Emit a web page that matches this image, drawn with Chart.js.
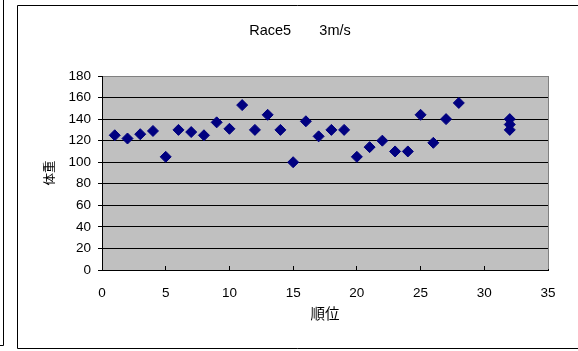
<!DOCTYPE html>
<html>
<head>
<meta charset="utf-8">
<script src="https://cdn.jsdelivr.net/npm/chart.js@4/dist/chart.umd.min.js"></script>
<style>
  html, body { margin: 0; padding: 0; background: #fff; }
  #wrap { width: 578px; height: 351px; }
</style>
</head>
<body>
<div id="wrap"><canvas id="c" width="578" height="351"></canvas></div>
<script>
// Finishing order (順位) and body weight (体重) of each runner
const rank   = [1, 2, 3, 4, 5, 6, 7, 8, 9, 10, 11, 12, 13, 14, 15, 16, 17, 18, 19, 20, 21, 22, 23, 24, 25, 26, 27, 28, 32, 32, 32];
const weight = [125, 122, 126, 129, 105, 130, 128, 125, 137, 131, 153, 130, 144, 130, 100, 138, 124, 130, 130, 105, 114, 120, 110, 110, 144, 118, 140, 155, 140, 135, 130];

const titleText  = 'Race5       3m/s';
const xAxisTitle = '順位';
const yAxisTitle = '体重';
const xTicks = [0, 5, 10, 15, 20, 25, 30, 35];
const yTicks = [0, 20, 40, 60, 80, 100, 120, 140, 160, 180];

const points = rank.map((r, i) => ({ x: r, y: weight[i] }));

const LATIN = "'Liberation Sans', Arial, sans-serif";
const CJK = "'Noto Sans CJK JP', 'Noto Sans CJK SC', sans-serif";

// Frames, plot background and the chart heading
const frame = {
  id: 'frame',
  beforeDraw(chart) {
    const { ctx, chartArea: a } = chart;
    ctx.save();
    ctx.fillStyle = '#ffffff';
    ctx.fillRect(0, 0, chart.width, chart.height);
    ctx.fillStyle = '#c0c0c0';
    ctx.fillRect(a.left, a.top, a.right - a.left, a.bottom - a.top);

    ctx.strokeStyle = '#000';
    ctx.lineWidth = 1;
    // neighbouring chart frame edge
    ctx.beginPath();
    ctx.moveTo(3.5, 0);
    ctx.lineTo(3.5, 345.5);
    ctx.lineTo(0, 345.5);
    ctx.stroke();
    // this chart's frame
    ctx.beginPath();
    ctx.moveTo(578, 5.5);
    ctx.lineTo(17.5, 5.5);
    ctx.lineTo(17.5, 348.5);
    ctx.lineTo(578, 348.5);
    ctx.stroke();

    ctx.fillStyle = '#000';
    ctx.font = '14.5px ' + LATIN;
    ctx.textAlign = 'center';
    ctx.textBaseline = 'middle';
    ctx.fillText(titleText, 300, 31);
    ctx.restore();
  },
  beforeDatasetsDraw(chart) {
    const { ctx, chartArea: a } = chart;
    ctx.save();
    ctx.strokeStyle = '#808080';
    ctx.lineWidth = 1;
    ctx.beginPath();
    ctx.moveTo(Math.round(a.right) + 0.5, a.top);
    ctx.lineTo(Math.round(a.right) + 0.5, a.bottom - 1);
    ctx.stroke();
    ctx.restore();
  }
};

new Chart(document.getElementById('c'), {
  type: 'scatter',
  data: {
    datasets: [{
      data: points,
      pointStyle: 'rectRot',
      pointRadius: 5.5,
      pointHoverRadius: 5.5,
      backgroundColor: '#000080',
      borderColor: '#000080',
      borderWidth: 1
    }]
  },
  options: {
    responsive: false,
    animation: false,
    events: [],
    layout: { padding: { top: 76, left: 0, right: 30, bottom: 0 } },
    plugins: {
      legend: { display: false },
      title: { display: false },
      tooltip: { enabled: false }
    },
    scales: {
      x: {
        type: 'linear',
        min: xTicks[0],
        max: xTicks[xTicks.length - 1],
        afterBuildTicks(scale) { scale.ticks = xTicks.map(v => ({ value: v })); },
        afterFit(scale) { scale.height = 81; },
        grid: { display: true, drawOnChartArea: false, drawTicks: true, tickLength: -4, color: '#000', lineWidth: 1 },
        border: { display: true, color: '#000', width: 1 },
        ticks: { color: '#000', font: { family: LATIN, size: 13.5 }, padding: 19, maxRotation: 0 },
        title: { display: true, text: xAxisTitle, color: '#000', font: { family: CJK, size: 14.5 }, padding: { top: 29.3, bottom: 29.3 } }
      },
      y: {
        type: 'linear',
        min: yTicks[0],
        max: yTicks[yTicks.length - 1],
        afterBuildTicks(scale) { scale.ticks = yTicks.map(v => ({ value: v })); },
        afterFit(scale) { scale.width = 102; },
        grid: {
          display: true,
          drawTicks: true,
          tickLength: 4,
          lineWidth: 1,
          color: ctx => (ctx.tick && ctx.tick.value === 180) ? '#808080' : '#000',
          tickColor: '#000'
        },
        border: { display: true, color: '#000', width: 1 },
        ticks: { color: '#000', font: { family: LATIN, size: 13.5 }, padding: 7 },
        title: { display: true, text: yAxisTitle, color: '#000', font: { family: CJK, size: 12.5 }, padding: { top: 42, bottom: 42 } }
      }
    }
  },
  plugins: [frame]
});
</script>
</body>
</html>
